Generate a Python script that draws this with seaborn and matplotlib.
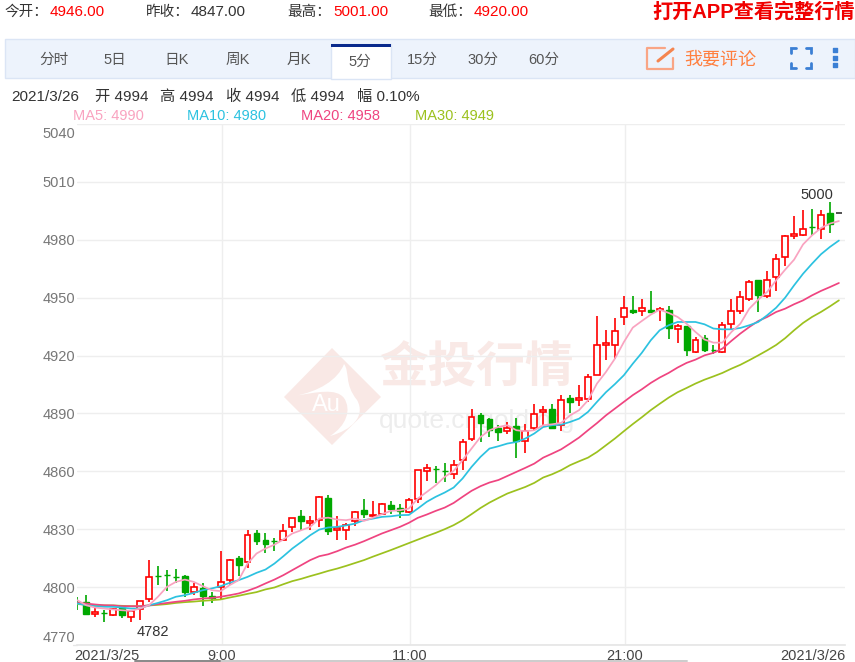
import numpy as np
import pandas as pd
import matplotlib
matplotlib.use('Agg')
import matplotlib.pyplot as plt
import seaborn as sns
from matplotlib.patches import Polygon, Rectangle, PathPatch
from matplotlib.path import Path
from matplotlib.transforms import ScaledTranslation

W, H = 855, 662

# candles
opens = [4792.5, 4792.4, 4786.3, 4786.8, 4785.5, 4789.0, 4784.6, 4788.4, 4794.0, 4806.0,
         4806.2, 4805.3, 4805.7, 4797.5, 4799.6, 4795.6, 4800.1, 4803.6, 4815.3, 4813.1,
         4828.1, 4824.3, 4824.0, 4824.3, 4831.2, 4836.7, 4833.0, 4834.7, 4846.4, 4829.5,
         4829.8, 4834.3, 4840.2, 4836.7, 4837.8, 4842.4, 4840.9, 4839.0, 4845.9, 4860.2,
         4861.0, 4860.4, 4858.8, 4865.8, 4876.6, 4889.0, 4887.0, 4882.5, 4881.0, 4883.4,
         4875.8, 4882.2, 4890.6, 4892.2, 4884.2, 4898.2, 4896.8, 4897.7, 4910.1, 4925.7,
         4925.7, 4940.0, 4943.8, 4943.3, 4943.8, 4943.5, 4943.8, 4933.8, 4935.2, 4921.7,
         4929.3, 4922.7, 4921.9, 4936.5, 4943.1, 4949.5, 4959.0, 4950.9, 4960.7, 4971.1,
         4982.1, 4982.6, 4986.6, 4985.8, 4993.9, 4994.0]
closes = [4792.0, 4786.3, 4787.0, 4786.5, 4788.4, 4785.5, 4787.5, 4792.9, 4805.3, 4806.0,
          4806.2, 4805.3, 4797.5, 4800.1, 4795.3, 4794.1, 4802.7, 4814.0, 4811.7, 4827.2,
          4824.0, 4822.2, 4824.0, 4829.1, 4835.7, 4834.3, 4834.2, 4846.8, 4829.1, 4830.7,
          4832.1, 4839.0, 4837.8, 4837.6, 4843.0, 4840.4, 4839.5, 4845.4, 4860.6, 4861.8,
          4861.0, 4860.4, 4863.2, 4875.2, 4888.2, 4885.3, 4881.3, 4880.4, 4882.3, 4875.6,
          4881.0, 4889.6, 4891.7, 4882.7, 4896.8, 4895.8, 4898.0, 4908.9, 4925.7, 4926.5,
          4932.7, 4944.5, 4942.4, 4944.5, 4942.4, 4944.3, 4934.5, 4935.2, 4922.7, 4928.3,
          4922.7, 4922.7, 4936.0, 4943.1, 4950.4, 4958.1, 4951.2, 4959.3, 4969.9, 4982.0,
          4982.8, 4985.8, 4986.6, 4993.0, 4988.3, 4994.0]
highs = [4795.0, 4796.0, 4790.6, 4788.0, 4789.0, 4789.8, 4788.0, 4793.0, 4814.0, 4810.8,
         4808.8, 4809.6, 4806.2, 4801.9, 4801.9, 4797.5, 4818.8, 4814.8, 4816.0, 4829.8,
         4829.8, 4827.8, 4825.7, 4832.9, 4836.0, 4839.9, 4836.7, 4847.1, 4847.6, 4836.7,
         4833.3, 4839.5, 4845.9, 4844.7, 4843.8, 4844.7, 4843.0, 4846.4, 4860.9, 4863.7,
         4862.6, 4864.5, 4865.8, 4876.5, 4892.5, 4890.4, 4887.7, 4883.9, 4885.6, 4887.7,
         4884.4, 4894.8, 4893.7, 4894.8, 4899.8, 4899.8, 4905.0, 4910.6, 4940.5, 4933.4,
         4939.5, 4950.7, 4950.7, 4949.5, 4953.5, 4945.2, 4945.5, 4936.2, 4935.2, 4929.6,
         4930.5, 4925.3, 4937.4, 4949.5, 4953.3, 4959.0, 4959.0, 4963.8, 4972.5, 4982.3,
         4992.3, 4995.3, 4996.1, 4995.3, 4999.6, 4994.0]
lows = [4788.0, 4786.3, 4784.3, 4782.0, 4785.0, 4784.0, 4782.0, 4783.0, 4792.4, 4801.0,
        4798.0, 4801.9, 4795.0, 4795.8, 4790.0, 4791.8, 4794.0, 4801.0, 4805.7, 4810.0,
        4821.7, 4817.8, 4818.8, 4824.0, 4828.6, 4829.5, 4829.5, 4831.2, 4826.9, 4824.6,
        4824.6, 4831.6, 4836.0, 4836.4, 4837.3, 4838.1, 4836.0, 4838.5, 4843.6, 4855.0,
        4854.0, 4854.5, 4855.9, 4860.6, 4875.8, 4875.2, 4877.8, 4875.8, 4879.6, 4867.0,
        4869.7, 4881.3, 4884.2, 4882.7, 4881.0, 4890.0, 4893.7, 4896.0, 4909.8, 4917.6,
        4918.4, 4935.7, 4941.4, 4940.5, 4942.1, 4937.9, 4928.6, 4926.5, 4919.6, 4921.4,
        4921.7, 4920.7, 4921.5, 4933.1, 4941.4, 4948.3, 4942.6, 4950.0, 4953.5, 4966.4,
        4980.6, 4981.8, 4982.3, 4980.2, 4983.5, 4994.0]

ma5 = [4793.2, 4790.6, 4789.4, 4788.9, 4788.4, 4788.0, 4787.7, 4788.9, 4790.6, 4795.0,
       4800.1, 4802.7, 4803.9, 4802.7, 4800.5, 4798.4, 4797.9, 4801.0, 4803.6, 4812.2,
       4817.4, 4820.0, 4822.0, 4824.7, 4827.8, 4829.5, 4831.2, 4835.5, 4836.0, 4835.0,
       4834.7, 4835.5, 4834.3, 4836.0, 4837.8, 4839.5, 4839.8, 4840.7, 4845.9, 4849.3,
       4852.8, 4857.1, 4860.2, 4865.8, 4871.8, 4877.8, 4881.3, 4883.0, 4883.9, 4881.3,
       4880.8, 4881.3, 4883.9, 4884.4, 4885.1, 4889.0, 4891.7, 4896.8, 4905.5, 4911.5,
       4918.4, 4927.0, 4934.5, 4937.9, 4941.2, 4943.8, 4942.1, 4940.0, 4936.5, 4932.2,
       4928.3, 4926.7, 4926.7, 4932.2, 4936.5, 4944.3, 4949.0, 4953.0, 4959.0, 4964.5,
       4969.7, 4977.6, 4982.3, 4986.1, 4988.4, 4989.7]
ma10 = [4791.5, 4790.6, 4790.1, 4789.8, 4789.8, 4789.4, 4788.9, 4788.9, 4790.6, 4791.8,
        4793.2, 4795.0, 4795.8, 4797.0, 4798.4, 4799.3, 4800.5, 4802.2, 4803.6, 4805.3,
        4807.4, 4809.1, 4812.2, 4816.0, 4820.0, 4823.4, 4826.9, 4829.8, 4830.9, 4831.2,
        4832.0, 4832.9, 4834.7, 4835.5, 4836.4, 4836.7, 4837.3, 4837.4, 4840.7, 4844.2,
        4846.8, 4849.0, 4851.6, 4856.3, 4862.3, 4867.5, 4871.8, 4873.0, 4874.4, 4875.2,
        4877.0, 4879.6, 4883.0, 4883.9, 4884.2, 4885.6, 4887.3, 4890.8, 4896.0, 4901.0,
        4905.2, 4909.8, 4915.8, 4921.4, 4927.9, 4933.1, 4935.7, 4937.4, 4937.4, 4937.4,
        4936.2, 4934.0, 4933.6, 4933.6, 4934.3, 4935.7, 4937.4, 4940.9, 4944.8, 4950.0,
        4956.4, 4962.4, 4967.6, 4972.5, 4976.3, 4979.6]
ma20 = [4791.8, 4791.5, 4791.0, 4790.6, 4790.5, 4790.1, 4790.1, 4790.1, 4790.5, 4791.2,
        4791.8, 4792.4, 4792.9, 4793.6, 4794.1, 4794.4, 4795.0, 4795.8, 4796.7, 4798.1,
        4799.8, 4801.9, 4803.9, 4806.2, 4808.8, 4811.4, 4814.0, 4816.0, 4817.0, 4818.6,
        4820.5, 4822.0, 4823.8, 4825.8, 4827.8, 4829.5, 4831.2, 4833.3, 4835.9, 4837.6,
        4839.5, 4841.2, 4843.6, 4846.8, 4849.9, 4852.3, 4854.2, 4855.5, 4857.6, 4859.7,
        4861.8, 4864.0, 4867.1, 4869.2, 4871.4, 4874.4, 4877.5, 4881.3, 4885.0, 4889.0,
        4892.5, 4896.0, 4899.5, 4902.5, 4905.8, 4908.6, 4911.0, 4913.8, 4916.2, 4917.9,
        4920.1, 4921.4, 4923.6, 4927.6, 4931.4, 4934.8, 4937.9, 4940.0, 4942.6, 4944.3,
        4946.6, 4948.6, 4951.2, 4953.5, 4955.5, 4957.6]
ma30 = [4791.2, 4790.9, 4790.6, 4790.5, 4790.5, 4790.3, 4790.1, 4790.1, 4790.5, 4790.8,
        4791.2, 4791.8, 4792.2, 4792.5, 4792.9, 4793.2, 4793.6, 4794.6, 4795.5, 4796.5,
        4797.4, 4798.8, 4799.8, 4801.5, 4803.1, 4804.3, 4805.7, 4807.0, 4808.4, 4809.6,
        4811.0, 4812.5, 4814.0, 4815.8, 4817.5, 4819.2, 4821.0, 4822.8, 4824.6, 4826.4,
        4828.1, 4830.0, 4832.1, 4834.7, 4837.8, 4841.0, 4843.8, 4846.2, 4848.5, 4850.2,
        4851.9, 4854.0, 4856.8, 4858.5, 4860.6, 4863.2, 4865.2, 4867.1, 4870.0, 4873.5,
        4877.0, 4880.8, 4884.5, 4888.0, 4891.7, 4895.0, 4898.2, 4901.0, 4903.2, 4905.5,
        4907.5, 4909.2, 4911.0, 4913.2, 4915.2, 4917.6, 4920.1, 4922.7, 4925.5, 4929.0,
        4933.1, 4936.9, 4940.0, 4942.6, 4945.5, 4948.6]

yticks = [4770, 4800, 4830, 4860, 4890, 4920, 4950, 4980, 5010, 5040]
date_ticks = [16.15, 37.1, 61.1]
date_labels = ['9:00', '11:00', '21:00']

RED = '#ff0000'
GREEN = '#00a800'
COLORS = {'MA5': '#f9a3c0', 'MA10': '#2cc2e0', 'MA20': '#ef4480', 'MA30': '#9cc11e'}
LATIN_CJK = ['Liberation Sans', 'Noto Sans CJK SC', 'DejaVu Sans']

sns.set_theme(style='white')
plt.rcParams['font.family'] = LATIN_CJK

fig = plt.figure(figsize=(W / 100, H / 100), dpi=100, facecolor='white')

# page furniture, drawn in screen pixels
bg = fig.add_axes([0, 0, 1, 1], zorder=0)
bg.set_xlim(0, W)
bg.set_ylim(H, 0)
bg.axis('off')

bg.add_patch(Rectangle((5, 39), 850, 39, fc='#edf3fc', ec='#dbe5f5', lw=1))
bg.add_patch(Rectangle((331, 44), 60, 35, fc='white', ec='#dbe5f5', lw=1))
bg.add_patch(Rectangle((331, 44), 60, 2.5, fc='#0a2a8c', ec='none'))


def label(x, y, s, color='#333333', size=10.5, ha='left', **kw):
    bg.text(x, y, s, color=color, fontsize=size, ha=ha, va='center', **kw)


for x, name, xv, val, col in [(4, '今开：', 50, '4946.00', '#ff0000'),
                              (146, '昨收：', 191, '4847.00', '#333333'),
                              (287, '最高：', 333, '5001.00', '#ff0000'),
                              (428, '最低：', 474, '4920.00', '#ff0000')]:
    label(x, 12, name)
    label(xv, 12, val, color=col, size=11)
label(855, 12, '打开APP查看完整行情', color='#f00000', size=14.5, ha='right', fontweight='bold')

for x, s in zip([54, 115, 177, 238, 299, 422, 483, 544],
                ['分时', '5日', '日K', '周K', '月K', '15分', '30分', '60分']):
    label(x, 60, s, color='#555555', size=10.5, ha='center')
label(360, 62, '5分', color='#555555', size=10.5, ha='center')

# comment button
bg.plot([665, 647, 647, 673, 673], [48, 48, 69, 69, 58], color='#f9a585', lw=1.6)
bg.plot([658, 673], [61, 49], color='#f5854f', lw=2.2)
label(684, 60, '我要评论', color='#ff7f3f', size=13)

# fullscreen + menu icons
for cx, cy, dx, dy in [(791, 48, 1, 1), (811, 48, -1, 1), (791, 68, 1, -1), (811, 68, -1, -1)]:
    bg.plot([cx + dx * 5, cx, cx], [cy, cy, cy + dy * 5], color='#3b7fd4', lw=2, solid_joinstyle='miter')
bg.scatter([835, 835, 835], [50, 58, 65], s=8, color='#3b7fd4', marker='s')

label(11, 97, '2021/3/26', size=11)
for x, s in zip([95, 160, 226, 291, 357],
                ['开 4994', '高 4994', '收 4994', '低 4994', '幅 0.10%']):
    label(x, 97, s, size=11)
for x, s, key in [(73, 'MA5: 4990', 'MA5'), (187, 'MA10: 4980', 'MA10'),
                  (301, 'MA20: 4958', 'MA20'), (415, 'MA30: 4949', 'MA30')]:
    label(x, 116, s, color=COLORS[key], size=10.5)

# watermark
bg.add_patch(Polygon([[284, 397], [332, 348], [381, 397], [332, 445]], fc='#f9e8e5', ec='none'))
swoosh = Path([(294, 396), (318, 392), (338, 380), (344, 364),
               (350, 372), (344, 384), (357, 400),
               (366, 416), (352, 430), (330, 436),
               (346, 426), (352, 410), (344, 398),
               (336, 388), (318, 392), (294, 396)],
              [Path.MOVETO, Path.CURVE4, Path.CURVE4, Path.CURVE4,
               Path.CURVE4, Path.CURVE4, Path.CURVE4,
               Path.CURVE4, Path.CURVE4, Path.CURVE4,
               Path.CURVE4, Path.CURVE4, Path.CURVE4,
               Path.CURVE4, Path.CURVE4, Path.CURVE4])
bg.add_patch(PathPatch(swoosh, fc='white', ec='none'))
label(326, 405, 'Au', color='white', size=17, ha='center')
label(476, 369, '金投行情', color='#f9e9e6', size=35, ha='center', fontweight='bold')
label(379, 421, 'quote.cngold.org', color='#ededed', size=19)

# chart area: y 124..645 px, candles start at 77.3 px and step 8.96 px
left, right, top, bottom = 77, 845, 124, 645
ax = fig.add_axes([left / W, 1 - bottom / H, (right - left) / W, (bottom - top) / H], zorder=2)
ax.patch.set_visible(False)
idx = np.arange(len(closes))
ax.set_xlim((left - 77.3) / 8.96, (right - 77.3) / 8.96)
ax.set_ylim(4770, 5040)

ax.set_yticks(yticks)
ax.set_yticklabels([str(v) for v in yticks], color='#777777', fontsize=10.5)
ax.tick_params(axis='y', length=0, pad=1)
ax.set_xticks(date_ticks)
ax.set_xticklabels(date_labels, color='#444444', fontsize=10.5)
ax.tick_params(axis='x', length=0, pad=3)
ax.grid(True, color='#eeeeee', lw=1)
ax.set_axisbelow(True)
sns.despine(ax=ax, left=True, top=True, right=True)
ax.spines['bottom'].set_color('#e6e6e6')

# end labels are pushed inside the plot range like in the screenshot
yl = ax.get_yticklabels()
yl[0].set_transform(yl[0].get_transform() + ScaledTranslation(0, 8 / 100, fig.dpi_scale_trans))
yl[-1].set_transform(yl[-1].get_transform() + ScaledTranslation(0, -9 / 100, fig.dpi_scale_trans))

label(74, 656, '2021/3/25', color='#444444', size=10.5)
label(845, 656, '2021/3/26', color='#444444', size=10.5, ha='right')
bg.plot([73, 77], [645, 645], color='#e6e6e6', lw=1)
bg.plot([220, 687], [661, 661], color='#cccccc', lw=1.4)
bg.plot([135, 220], [661, 661], color='#888888', lw=1.4)

df = pd.DataFrame({'i': idx, 'open': opens, 'close': closes, 'high': highs, 'low': lows})
last = df.iloc[-1]
df = df.iloc[:-1]
up = df[df['close'] > df['open']]
down = df[df['close'] <= df['open']]

ax.vlines(up['i'], up['low'], up['high'], color=RED, lw=1.2, zorder=3)
ax.bar(up['i'], up['close'] - up['open'], bottom=up['open'], width=0.66,
       facecolor='white', edgecolor=RED, lw=1.2, zorder=4)
ax.vlines(down['i'], down['low'], down['high'], color=GREEN, lw=1.2, zorder=3)
ax.bar(down['i'], down['open'] - down['close'], bottom=down['close'], width=0.66,
       facecolor=GREEN, edgecolor=GREEN, lw=1.0, zorder=4)
# newest tick has no range yet
ax.hlines(last['close'], last['i'] - 0.33, last['i'] + 0.33, color='#333333', lw=1.2, zorder=4)

for name, values in [('MA30', ma30), ('MA20', ma20), ('MA10', ma10), ('MA5', ma5)]:
    sns.lineplot(x=idx, y=values, color=COLORS[name], lw=1.25, ax=ax, legend=False, zorder=5)

ax.set_xlabel('')
ax.set_ylabel('')

ax.annotate('5000', xy=(84, 4999.6), xytext=(-13, 0), textcoords='offset pixels',
            ha='center', va='bottom', fontsize=10.5, color='#333333')
ax.annotate('4782', xy=(6, 4782), xytext=(22, -3), textcoords='offset pixels',
            ha='center', va='top', fontsize=10.5, color='#333333')

fig.savefig('out.png', dpi=100)
